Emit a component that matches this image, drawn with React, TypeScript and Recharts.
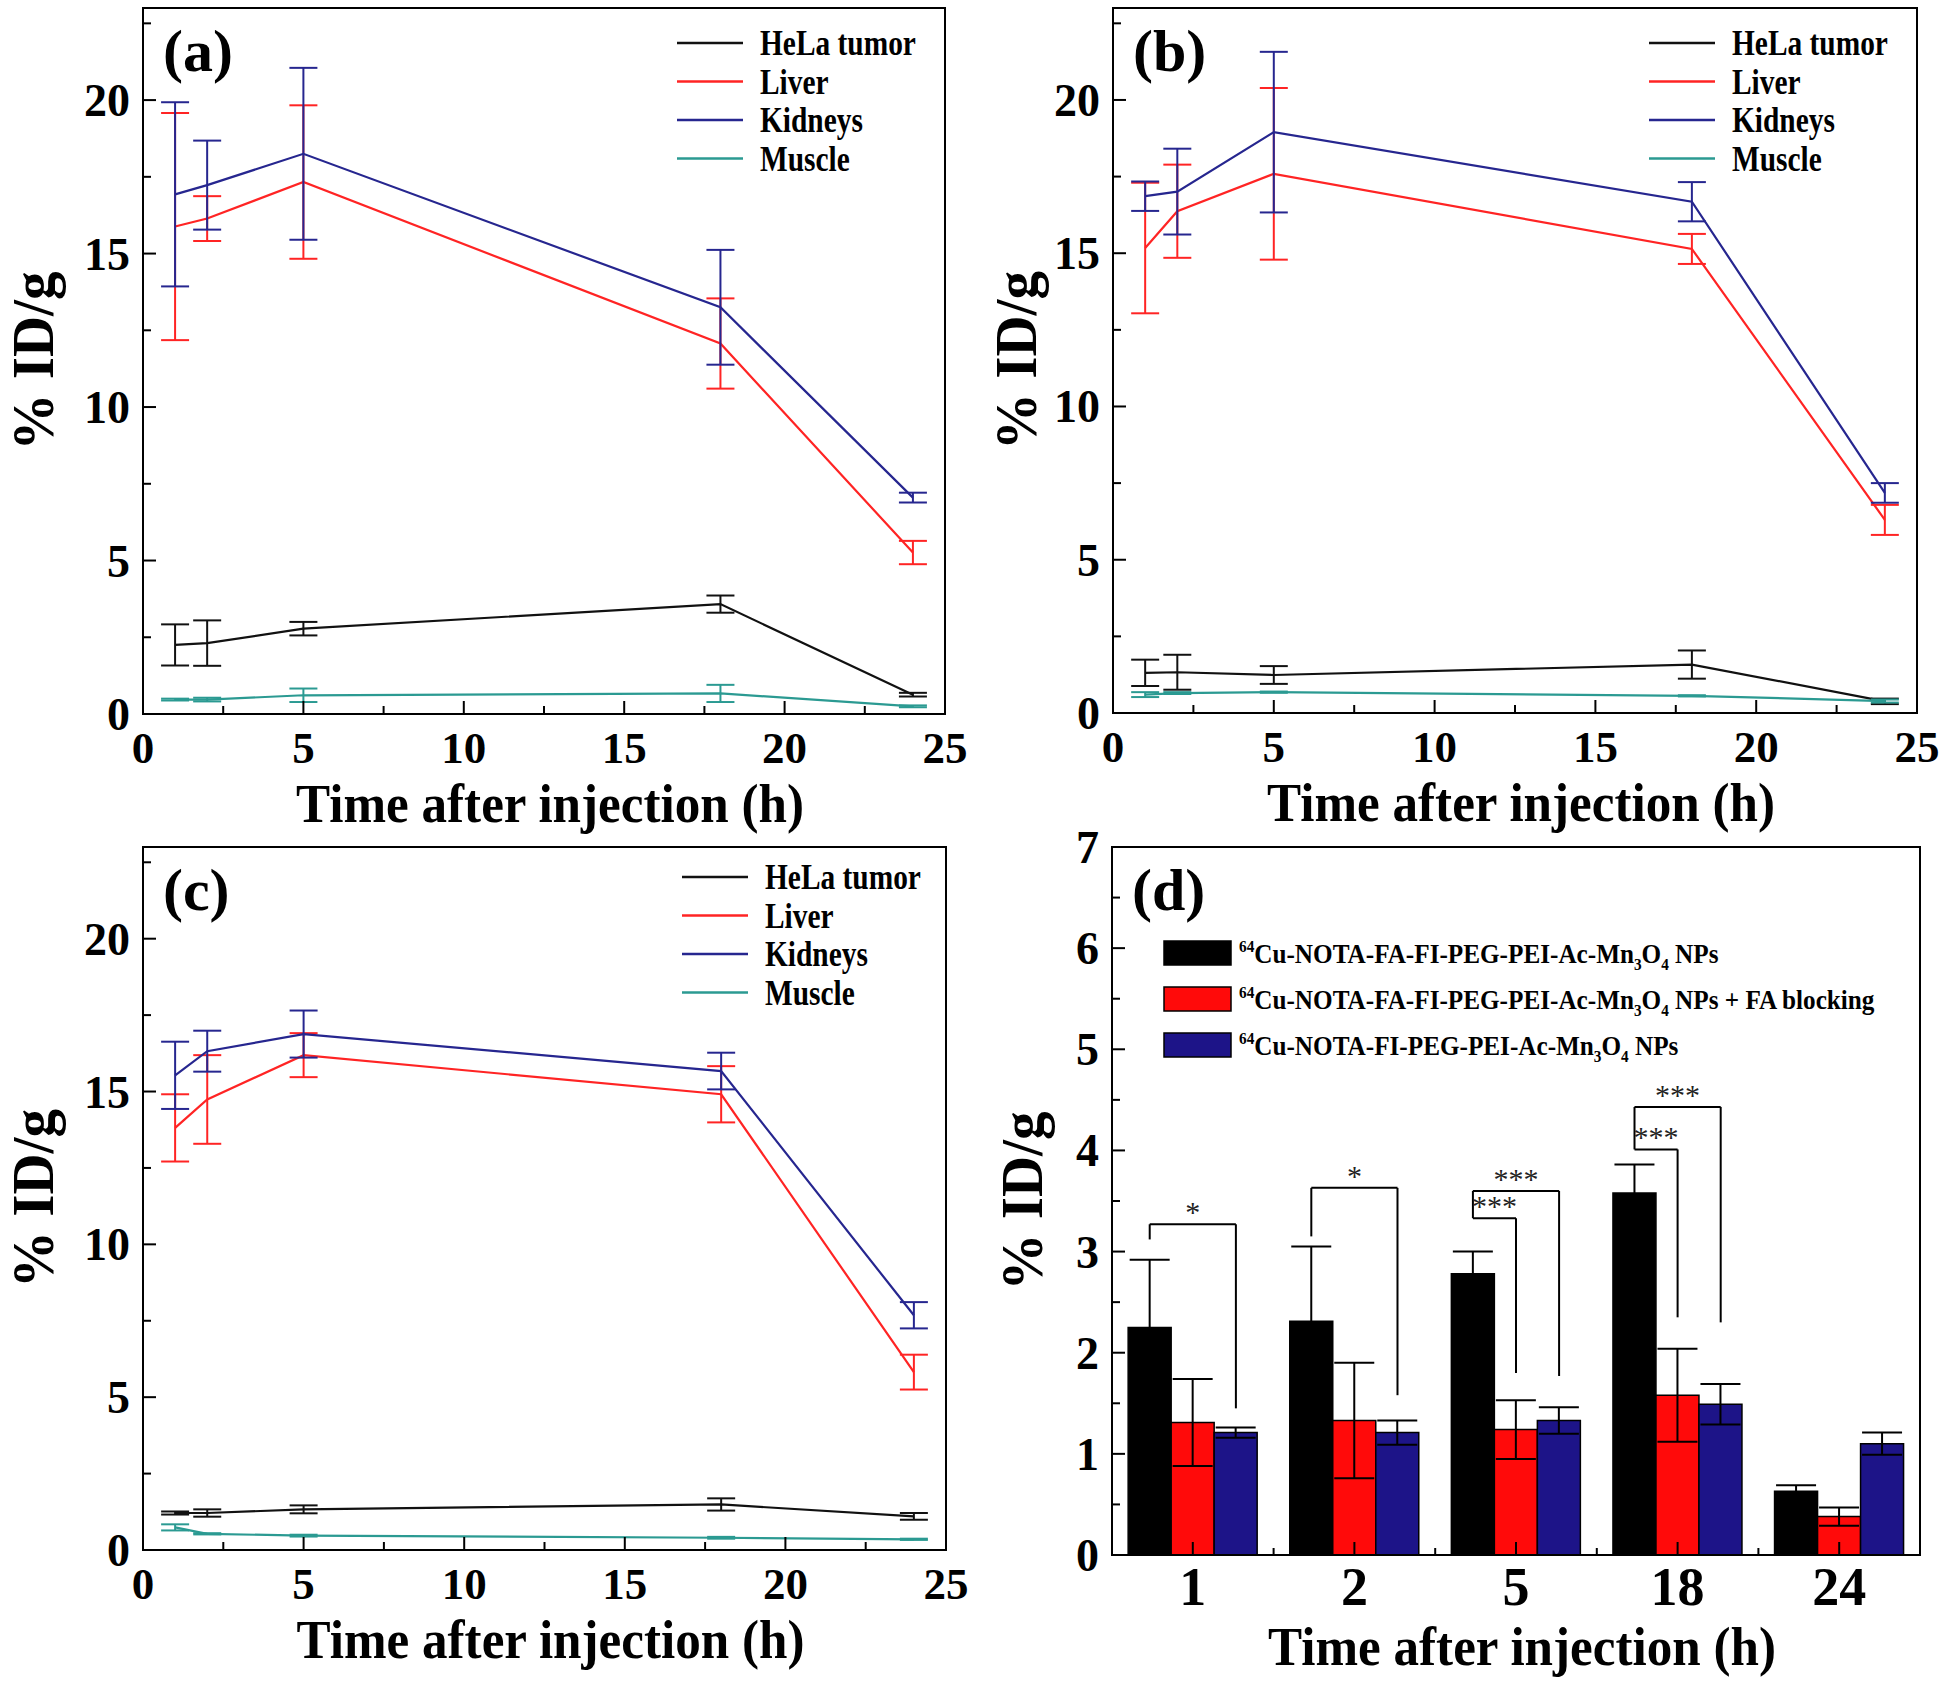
import React from 'react';
import {
  LineChart, Line, BarChart, Bar, XAxis, YAxis, ErrorBar, Legend,
  ReferenceArea, ReferenceLine, Label,
} from 'recharts';

const FONT = '"Liberation Serif", "Times New Roman", Times, serif';

// ---------- data ----------
const times = [1, 2, 5, 18, 24];
const organNames = ['HeLa tumor', 'Liver', 'Kidneys', 'Muscle'];
const organKeys = ['hela', 'liver', 'kidneys', 'muscle'];
const organColors = ['#111111', '#ff2424', '#26268f', '#2b9a92'];

// (a)
const aHela = [2.25, 2.31, 2.78, 3.58, 0.63];
const aHelaErr = [0.67, 0.74, 0.22, 0.28, 0.06];
const aLiver = [15.88, 16.14, 17.33, 12.07, 5.26];
const aLiverErr = [3.7, 0.73, 2.5, 1.47, 0.38];
const aKidneys = [16.93, 17.23, 18.25, 13.25, 7.05];
const aKidneysErr = [3.0, 1.45, 2.8, 1.87, 0.16];
const aMuscle = [0.47, 0.47, 0.61, 0.67, 0.25];
const aMuscleErr = [0.03, 0.06, 0.22, 0.28, 0.03];

// (b)
const bHela = [1.31, 1.33, 1.24, 1.58, 0.38];
const bHelaErr = [0.43, 0.57, 0.29, 0.46, 0.09];
const bLiver = [15.17, 16.37, 17.59, 15.14, 6.3];
const bLiverErr = [2.13, 1.52, 2.8, 0.49, 0.49];
const bKidneys = [16.86, 17.01, 18.95, 16.68, 7.18];
const bKidneysErr = [0.48, 1.4, 2.62, 0.64, 0.32];
const bMuscle = [0.6, 0.65, 0.68, 0.56, 0.39];
const bMuscleErr = [0.08, 0.03, 0.02, 0.02, 0.05];

// (c)
const cHela = [1.21, 1.21, 1.33, 1.49, 1.1];
const cHelaErr = [0.05, 0.12, 0.13, 0.2, 0.11];
const cLiver = [13.81, 14.74, 16.19, 14.91, 5.82];
const cLiverErr = [1.1, 1.45, 0.72, 0.92, 0.57];
const cKidneys = [15.53, 16.32, 16.88, 15.67, 7.68];
const cKidneysErr = [1.1, 0.67, 0.77, 0.6, 0.43];
const cMuscle = [0.74, 0.53, 0.47, 0.4, 0.35];
const cMuscleErr = [0.1, 0.02, 0.03, 0.03, 0.02];

// axis ticks
const lineXTicks = [0, 2.5, 5, 7.5, 10, 12.5, 15, 17.5, 20, 22.5, 25];
const lineYTicks = [0, 2.5, 5, 7.5, 10, 12.5, 15, 17.5, 20, 22.5];
const dYTicks = [0, 0.5, 1, 1.5, 2, 2.5, 3, 3.5, 4, 4.5, 5, 5.5, 6, 6.5, 7];

// (d)
const dCategories = ['1', '2', '5', '18', '24'];
const dNames = [
  '64Cu-NOTA-FA-FI-PEG-PEI-Ac-Mn3O4 NPs',
  '64Cu-NOTA-FA-FI-PEG-PEI-Ac-Mn3O4 NPs + FA blocking',
  '64Cu-NOTA-FI-PEG-PEI-Ac-Mn3O4 NPs',
];
const dKeys = ['black', 'red', 'blue'];
const dColors = ['#000000', '#ff0a0a', '#1d1488'];
// significance brackets: category index, target bar, bracket height, leg bottoms, label
const brackets = [
  { cat: 0, to: 'blue', y: 3.27, leftBottom: 3.12, rightBottom: 1.45, label: '*' },
  { cat: 1, to: 'blue', y: 3.63, leftBottom: 3.15, rightBottom: 1.58, label: '*' },
  { cat: 2, to: 'blue', y: 3.6, leftBottom: 3.33, rightBottom: 1.77, label: '***' },
  { cat: 2, to: 'red', y: 3.33, leftBottom: 3.33, rightBottom: 1.8, label: '***' },
  { cat: 3, to: 'blue', y: 4.43, leftBottom: 4.01, rightBottom: 2.3, label: '***' },
  { cat: 3, to: 'red', y: 4.01, leftBottom: 4.01, rightBottom: 2.35, label: '***' },
];

const makeRows = (h: number[], he: number[], l: number[], le: number[], k: number[], ke: number[], m: number[], me: number[]) =>
  times.map((t, i) => ({
    t,
    hela: h[i], helaErr: he[i],
    liver: l[i], liverErr: le[i],
    kidneys: k[i], kidneysErr: ke[i],
    muscle: m[i], muscleErr: me[i],
  }));

const rowsA = makeRows(aHela, aHelaErr, aLiver, aLiverErr, aKidneys, aKidneysErr, aMuscle, aMuscleErr);
const rowsB = makeRows(bHela, bHelaErr, bLiver, bLiverErr, bKidneys, bKidneysErr, bMuscle, bMuscleErr);
const rowsC = makeRows(cHela, cHelaErr, cLiver, cLiverErr, cKidneys, cKidneysErr, cMuscle, cMuscleErr);

const dRows = dCategories.map((c, i) => ({
  cat: c,
  pos: i + 0.5,
  black: aHela[i], blackErr: aHelaErr[i],
  red: bHela[i], redErr: bHelaErr[i],
  blue: cHela[i], blueErr: cHelaErr[i],
}));

// ---------- shared renderers ----------
const boldText = { fontFamily: FONT, fontWeight: 'bold' as const, fill: '#000' };

const LineXTick = (p: any) => {
  const v = p.payload.value;
  const major = Math.abs(v % 5) < 1e-6;
  return (
    <g>
      <line x1={p.x} x2={p.x} y1={p.y} y2={p.y - (major ? 13 : 8)} stroke="#000" strokeWidth={2} />
      {major && (
        <text x={p.x} y={p.y + 49} textAnchor="middle" fontSize={45} {...boldText}>{v}</text>
      )}
    </g>
  );
};

const makeYTick = (step: number) => (p: any) => {
  const v = p.payload.value;
  const r = v / step;
  const major = Math.abs(r - Math.round(r)) < 1e-6;
  return (
    <g>
      <line x1={p.x} x2={p.x + (major ? 13 : 8)} y1={p.y} y2={p.y} stroke="#000" strokeWidth={2} />
      {major && (
        <text x={p.x - 13} y={p.y + 16} textAnchor="end" fontSize={46} {...boldText}>{v}</text>
      )}
    </g>
  );
};
const LineYTick = makeYTick(5);
const BarYTick = makeYTick(1);

const D_PLOT_W = 808;
const BarXTick = (p: any) => {
  const half = D_PLOT_W / dCategories.length / 2;
  return (
    <g>
      <line x1={p.x} x2={p.x} y1={p.y} y2={p.y - 13} stroke="#000" strokeWidth={2} />
      {p.index < dCategories.length - 1 && (
        <line x1={p.x + half} x2={p.x + half} y1={p.y} y2={p.y - 7} stroke="#000" strokeWidth={2} />
      )}
      <text x={p.x} y={p.y + 50} textAnchor="middle" fontSize={54} {...boldText}>{p.payload.value}</text>
    </g>
  );
};

const getVB = (p: any) => p.viewBox || p;

const makeXTitle = (dy: number) => (p: any) => {
  const vb = getVB(p);
  const x = vb.x + vb.width / 2 + 6;
  const y = vb.y + dy;
  return (
    <text transform={`translate(${x},${y}) scale(0.93,1)`} textAnchor="middle" fontSize={55} {...boldText}>
      Time after injection (h)
    </text>
  );
};
const lineXTitle = makeXTitle(108);
const barXTitle = makeXTitle(110);

const makeYTitle = (dx: number) => (p: any) => {
  const vb = getVB(p);
  const x = vb.x + vb.width + dx;
  const y = vb.y + vb.height / 2;
  return (
    <text transform={`translate(${x},${y}) rotate(-90) scale(0.95,1)`} textAnchor="middle" fontSize={60} {...boldText}>
      % ID/g
    </text>
  );
};

const makeLetter = (letter: string) => (p: any) => {
  const vb = getVB(p);
  return (
    <text x={vb.x + vb.width + 20} y={vb.y + 63} fontSize={60} {...boldText}>{letter}</text>
  );
};

const LineLegendContent = (props: any) => {
  const payload = [...(props.payload || [])].sort(
    (a: any, b: any) => organNames.indexOf(a.value) - organNames.indexOf(b.value),
  );
  return (
    <svg width={300} height={160} style={{ display: 'block', overflow: 'visible' }}>
      {payload.map((e: any, i: number) => {
        const cy = 23 + i * 38.5;
        return (
          <g key={e.value}>
            <line x1={0} x2={66} y1={cy} y2={cy} stroke={e.color} strokeWidth={2.5} />
            <text transform={`translate(83,${cy + 12}) scale(0.84,1)`} fontSize={35} {...boldText}>{e.value}</text>
          </g>
        );
      })}
    </svg>
  );
};

const chemSpans = (s: string) => {
  const out: any[] = [];
  let cur = 0;
  let key = 0;
  let rest = s;
  const m = s.match(/^(\d+)(.*)$/);
  if (m) {
    out.push(<tspan key={key++} fontSize={17} dy={-11 - cur}>{m[1]}</tspan>);
    cur = -11;
    rest = m[2];
  }
  rest.split(/(\d)/).forEach((part) => {
    if (!part) return;
    if (/^\d$/.test(part)) {
      out.push(<tspan key={key++} fontSize={17} dy={7 - cur}>{part}</tspan>);
      cur = 7;
    } else {
      out.push(<tspan key={key++} dy={-cur}>{part}</tspan>);
      cur = 0;
    }
  });
  return out;
};

const BarLegendContent = (props: any) => {
  const payload = [...(props.payload || [])].sort(
    (a: any, b: any) => dNames.indexOf(a.value) - dNames.indexOf(b.value),
  );
  return (
    <svg width={720} height={130} style={{ display: 'block', overflow: 'visible' }}>
      {payload.map((e: any, i: number) => {
        const cy = 16 + i * 46;
        return (
          <g key={e.value}>
            <rect x={0} y={cy - 12} width={67} height={24} fill={e.color} stroke="#000" strokeWidth={1.5} />
            <text transform={`translate(75,${cy + 10}) scale(0.9,1)`} fontSize={28} {...boldText}>
              {chemSpans(e.value)}
            </text>
          </g>
        );
      })}
    </svg>
  );
};

// ---------- line panel ----------
type LineCfg = {
  left: number; top: number;
  margin: { top: number; right: number; bottom: number; left: number };
  legendLeft: number; legendTop: number;
  yTitleDx: number; letter: string; rows: any[];
};

const LinePanel = ({ cfg }: { cfg: LineCfg }) => (
  <div style={{ position: 'absolute', left: cfg.left, top: cfg.top }}>
    <LineChart width={975} height={842} data={cfg.rows} margin={cfg.margin}>
      <XAxis
        type="number" dataKey="t" domain={[0, 25]} ticks={lineXTicks} interval={0} allowDataOverflow
        tick={LineXTick} tickLine={false} tickSize={0} tickMargin={0} height={60}
        axisLine={{ stroke: '#000', strokeWidth: 2 }}
      >
        <Label content={lineXTitle} />
      </XAxis>
      <YAxis
        type="number" domain={[0, 23]} ticks={lineYTicks} interval={0} allowDataOverflow
        tick={LineYTick} tickLine={false} tickSize={0} tickMargin={0} width={100}
        axisLine={{ stroke: '#000', strokeWidth: 2 }}
      >
        <Label content={makeYTitle(cfg.yTitleDx)} />
        <Label content={makeLetter(cfg.letter)} />
      </YAxis>
      {organKeys.map((k, i) => (
        <Line
          key={k} dataKey={k} name={organNames[i]} stroke={organColors[i]} strokeWidth={2.2}
          dot={false} activeDot={false} isAnimationActive={false}
        >
          <ErrorBar dataKey={`${k}Err`} direction="y" width={14} stroke={organColors[i]} strokeWidth={2} />
        </Line>
      ))}
      <ReferenceArea x1={0} x2={25} y1={0} y2={23} fill="none" stroke="#000" strokeWidth={2} ifOverflow="visible" />
      <Legend
        layout="horizontal" verticalAlign="middle" align="center"
        wrapperStyle={{ left: cfg.legendLeft, top: cfg.legendTop, width: 300, height: 160 }}
        content={LineLegendContent}
      />
    </LineChart>
  </div>
);

// ---------- bar panel ----------
const BAR_OFF = 0.8 / 3;
const BarPanel = () => (
  <div style={{ position: 'absolute', left: 975, top: 812 }}>
    <BarChart
      width={975} height={872} data={dRows}
      margin={{ top: 35, right: 30, bottom: 69, left: 37 }}
      barCategoryGap="10%" barGap={0}
    >
      <XAxis
        dataKey="cat" type="category" interval={0} tick={BarXTick} tickLine={false}
        tickSize={0} tickMargin={0} height={60} axisLine={{ stroke: '#000', strokeWidth: 2 }}
      >
        <Label content={barXTitle} />
      </XAxis>
      <XAxis xAxisId="num" dataKey="pos" type="number" domain={[0, 5]} allowDataOverflow hide />
      <YAxis
        type="number" domain={[0, 7]} ticks={dYTicks} interval={0} allowDataOverflow
        tick={BarYTick} tickLine={false} tickSize={0} tickMargin={0} width={100}
        axisLine={{ stroke: '#000', strokeWidth: 2 }}
      >
        <Label content={makeYTitle(-70)} />
        <Label content={makeLetter('(d)')} />
      </YAxis>
      {dKeys.map((k, i) => (
        <Bar key={k} dataKey={k} name={dNames[i]} fill={dColors[i]} stroke="#000" strokeWidth={1.5} isAnimationActive={false}>
          <ErrorBar dataKey={`${k}Err`} direction="y" width={20} stroke="#000" strokeWidth={2} />
        </Bar>
      ))}
      {brackets.map((b, i) => {
        const xl = b.cat + 0.5 - BAR_OFF;
        const xr = b.cat + 0.5 + (b.to === 'blue' ? BAR_OFF : 0);
        return (
          <React.Fragment key={i}>
            {b.leftBottom < b.y && (
              <ReferenceLine xAxisId="num" segment={[{ x: xl, y: b.leftBottom }, { x: xl, y: b.y }]} stroke="#000" strokeWidth={2} />
            )}
            <ReferenceLine
              xAxisId="num" segment={[{ x: xl, y: b.y }, { x: xr, y: b.y }]} stroke="#000" strokeWidth={2}
              label={{ value: b.label, position: 'top', offset: 2, fill: '#222', fontSize: 30, fontFamily: FONT }}
            />
            <ReferenceLine xAxisId="num" segment={[{ x: xr, y: b.y }, { x: xr, y: b.rightBottom }]} stroke="#000" strokeWidth={2} />
          </React.Fragment>
        );
      })}
      <ReferenceArea xAxisId="num" x1={0} x2={5} y1={0} y2={7} fill="none" stroke="#000" strokeWidth={2} ifOverflow="visible" />
      <Legend
        layout="horizontal" verticalAlign="middle" align="center"
        wrapperStyle={{ left: 189, top: 125, width: 720, height: 130 }}
        content={BarLegendContent}
      />
    </BarChart>
  </div>
);

const cfgA: LineCfg = {
  left: 0, top: 0, margin: { top: 8, right: 30, bottom: 68, left: 43 },
  legendLeft: 677, legendTop: 20, yTitleDx: -90, letter: '(a)', rows: rowsA,
};
const cfgB: LineCfg = {
  left: 975, top: 0, margin: { top: 8, right: 33, bottom: 69, left: 38 },
  legendLeft: 674, legendTop: 20, yTitleDx: -77, letter: '(b)', rows: rowsB,
};
const cfgC: LineCfg = {
  left: 0, top: 842, margin: { top: 5, right: 29, bottom: 74, left: 43 },
  legendLeft: 682, legendTop: 12, yTitleDx: -90, letter: '(c)', rows: rowsC,
};

export default function App() {
  return (
    <div style={{ position: 'absolute', left: 0, top: 0, width: 1950, height: 1684, background: '#fff', overflow: 'hidden' }}>
      <LinePanel cfg={cfgA} />
      <LinePanel cfg={cfgB} />
      <LinePanel cfg={cfgC} />
      <BarPanel />
    </div>
  );
}
